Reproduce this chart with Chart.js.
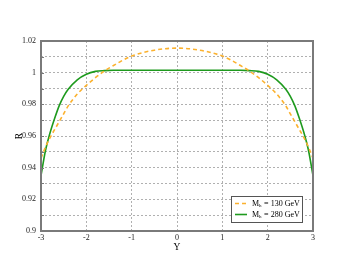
<!DOCTYPE html>
<html>
<head>
<meta charset="utf-8">
<script src="https://cdn.jsdelivr.net/npm/chart.js@4/dist/chart.umd.min.js"></script>
<style>
  html, body { margin: 0; padding: 0; background: #fff; }
  #wrap { width: 353px; height: 273px; }
</style>
</head>
<body>
<div id="wrap"><canvas id="chart"></canvas></div>
<script>
// rapidity points and ratio values
var rapidity = [-3, -2.9, -2.8, -2.7, -2.6, -2.5, -2.4, -2.2, -2, -1.8, -1.6, -1.4, -1.2, -1, -0.5, 0,
                0.5, 1, 1.2, 1.4, 1.6, 1.8, 2, 2.2, 2.4, 2.5, 2.6, 2.7, 2.8, 2.9, 3];
var ratio130 = [0.946, 0.953, 0.959, 0.964, 0.969, 0.974, 0.979, 0.9865, 0.992, 0.9968, 1.001, 1.0045, 1.0078, 1.0105, 1.0142, 1.0155,
                1.0142, 1.0105, 1.0078, 1.0045, 1.001, 0.9968, 0.992, 0.9865, 0.979, 0.974, 0.969, 0.964, 0.959, 0.953, 0.946];
var ratio280 = [0.935, 0.951, 0.962, 0.971, 0.979, 0.985, 0.9895, 0.9955, 0.999, 1.0008, 1.0013, 1.0015, 1.0015, 1.0015, 1.0015, 1.0015,
                1.0015, 1.0015, 1.0015, 1.0015, 1.0013, 1.0008, 0.999, 0.9955, 0.9895, 0.985, 0.979, 0.971, 0.962, 0.951, 0.935];
var seriesLabels = ['130 GeV', '280 GeV'];

var serif = '"Liberation Serif", "DejaVu Serif", serif';

function pts(ys) {
  return rapidity.map(function (x, i) { return { x: x, y: ys[i] }; });
}

// grey frame around the plot area, with short inward ticks on the left
var framePlugin = {
  id: 'frame',
  afterDraw: function (chart) {
    var a = chart.chartArea, c = chart.ctx;
    c.save();
    c.strokeStyle = '#7a7a7a';
    c.lineWidth = 2;
    c.strokeRect(a.left, a.top, a.right - a.left, a.bottom - a.top);
    c.lineWidth = 1;
    chart.scales.y.ticks.forEach(function (t) {
      var y = Math.round(chart.scales.y.getPixelForValue(t.value)) + 0.5;
      c.beginPath();
      c.moveTo(a.left, y);
      c.lineTo(a.left + 3, y);
      c.stroke();
    });
    c.restore();
  }
};

// legend with subscripted M_h
var legendPlugin = {
  id: 'mhLegend',
  afterDraw: function (chart) {
    var c = chart.ctx;
    var bx = 231, by = 196, bw = 71, bh = 26;
    c.save();
    c.fillStyle = '#fff';
    c.fillRect(bx, by, bw, bh);
    c.strokeStyle = '#555';
    c.lineWidth = 1;
    c.strokeRect(bx + 0.5, by + 0.5, bw, bh);
    var rows = [by + 7.5, by + 18.5];
    chart.data.datasets.forEach(function (ds, i) {
      var y = rows[i];
      c.strokeStyle = ds.borderColor;
      c.lineWidth = ds.borderWidth;
      c.setLineDash(ds.borderDash || []);
      c.beginPath();
      c.moveTo(bx + 4, y);
      c.lineTo(bx + 16, y);
      c.stroke();
      c.setLineDash([]);
      c.fillStyle = '#000';
      c.textBaseline = 'middle';
      c.font = '8px ' + serif;
      c.fillText('M', bx + 21, y);
      var mw = c.measureText('M').width;
      c.font = '5px ' + serif;
      c.fillText('h', bx + 21 + mw, y + 2.5);
      c.font = '8px ' + serif;
      c.fillText('= ' + seriesLabels[i], bx + 21 + mw + 5, y);
    });
    c.restore();
  }
};

new Chart(document.getElementById('chart'), {
  type: 'line',
  data: {
    datasets: [{
      label: seriesLabels[0],
      data: pts(ratio130),
      borderColor: '#fbb12e',
      borderWidth: 1.6,
      borderDash: [4, 3],
      pointRadius: 0,
      cubicInterpolationMode: 'monotone',
      fill: false
    }, {
      label: seriesLabels[1],
      data: pts(ratio280),
      borderColor: '#1e9a1e',
      borderWidth: 1.6,
      pointRadius: 0,
      cubicInterpolationMode: 'monotone',
      fill: false
    }]
  },
  options: {
    responsive: true,
    maintainAspectRatio: false,
    animation: false,
    layout: { padding: { left: 0, right: 40, top: 41, bottom: 0 } },
    plugins: {
      legend: { display: false },
      tooltip: { enabled: false }
    },
    scales: {
      x: {
        type: 'linear',
        min: -3,
        max: 3,
        afterFit: function (s) { s.height = 42; },
        border: { display: false, dash: [2, 2] },
        grid: { color: '#b0b0b0', drawTicks: false, lineWidth: 1 },
        ticks: {
          stepSize: 1,
          color: '#222',
          padding: 2,
          font: { family: serif, size: 8 }
        },
        title: {
          display: true,
          text: 'Y',
          color: '#000',
          padding: { top: 0, bottom: 20 },
          font: { family: serif, size: 9.5 }
        }
      },
      y: {
        min: 0.9,
        max: 1.02,
        afterFit: function (s) { s.width = 41; },
        border: { display: false, dash: [2, 2] },
        grid: { color: '#b0b0b0', drawTicks: false, lineWidth: 1 },
        ticks: {
          stepSize: 0.01,
          color: '#222',
          padding: 5,
          autoSkip: false,
          font: { family: serif, size: 8 },
          callback: function (v) {
            var k = Math.round(v * 100);
            if (k % 2 !== 0) return '';
            return String(k / 100);
          }
        },
        title: {
          display: true,
          text: 'R',
          color: '#000',
          padding: { top: 14, bottom: 0 },
          font: { family: serif, size: 9.5 }
        }
      }
    }
  },
  plugins: [framePlugin, legendPlugin]
});
</script>
</body>
</html>
